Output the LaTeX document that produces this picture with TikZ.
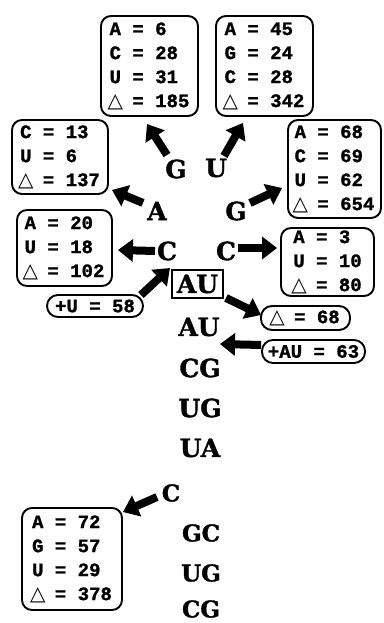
\documentclass[tikz,border=0pt]{standalone}
\usepackage{fontspec}
\usetikzlibrary{arrows.meta}
\newfontfamily\boxfamily{Liberation Mono}[BoldFeatures={FakeBold=1.2}]
\newfontfamily\basefamily{DejaVu Serif}[BoldFeatures={FakeBold=1.5}]
\newfontfamily\symfamily{DejaVu Sans}
\newcommand\boxfont{\boxfamily\bfseries\fontsize{19}{24}\selectfont}
\newcommand\basefont{\basefamily\bfseries\fontsize{25}{29}\selectfont}
\newcommand\smallbasefont{\basefamily\bfseries\fontsize{23}{27}\selectfont}
\newcommand\tri{\makebox[11.4pt][c]{\symfamily\bfseries\fontsize{20}{24}\selectfont △}}
\tikzset{
  infobox/.style={draw, line width=1.9pt, rounded corners=10pt, align=left, font=\boxfont, inner sep=0pt},
  pill/.style={draw, line width=1.9pt, rounded corners=11pt, font=\boxfont, inner sep=0pt},
  base/.style={font=\basefont, inner sep=1pt},
  sbase/.style={font=\smallbasefont, inner sep=1pt},
  bigarrow/.style={line width=8pt, -{Triangle[length=15pt,width=22pt]}}
}
\begin{document}
\begin{tikzpicture}[x=1pt,y=-1pt]
\useasboundingbox (0,0) rectangle (383,623);
% info boxes
\node[infobox, minimum width=97, minimum height=100] (box1) at (149.5,66) {A = 6\\C = 28\\U = 31\\\tri{} = 185};
\node[infobox, minimum width=97, minimum height=100] (box2) at (264.5,66) {A = 45\\G = 24\\C = 28\\\tri{} = 342};
\node[infobox, minimum width=96, minimum height=74] (box3) at (60,157) {C = 13\\U = 6\\\tri{} = 137};
\node[infobox, minimum width=93, minimum height=98] (box4) at (334.5,169) {A = 68\\C = 69\\U = 62\\\tri{} = 654};
\node[infobox, minimum width=95, minimum height=76] (box5) at (64.5,248) {A = 20\\U = 18\\\tri{} = 102};
\node[infobox, minimum width=93, minimum height=68] (box6) at (327.5,262) {A = 3\\U = 10\\\tri{} = 80};
\node[pill, minimum width=96, minimum height=22] (plusU) at (95,306) {+U = 58};
\node[pill, minimum width=89, minimum height=24] (d68) at (305.5,318) {\tri{} = 68};
\node[pill, minimum width=103, minimum height=23] (plusAU) at (313.5,351.5) {+AU = 63};
\node[infobox, minimum width=100, minimum height=102] (box7) at (72,559) {A = 72\\G = 57\\U = 29\\\tri{} = 378};
% bases
\node[base] (G1) at (176,169) {G};
\node[base] (U1) at (216,168) {U};
\node[base] (A1) at (157,211) {A};
\node[base] (G2) at (236,211) {G};
\node[base] (C1) at (167,251) {C};
\node[base] (C2) at (226,251) {C};
\node[base, draw, line width=1.9pt, inner sep=0pt, minimum width=51, minimum height=28] (AUb) at (197.5,284) {AU};
\node[base] (AU2) at (199,327) {AU};
\node[base] (CG1) at (200,368) {CG};
\node[base] (UG1) at (200,408) {UG};
\node[base] (UA1) at (200,448) {UA};
\node[sbase] (C3) at (171,493) {C};
\node[sbase] (GC1) at (201,533) {GC};
\node[sbase] (UG2) at (201,573) {UG};
\node[sbase] (CG2) at (201,609) {CG};
% arrows
\draw[bigarrow] ([shift={(-9,-14)}]G1.center) -- ([shift={(-2.5,7)}]box1.south);
\draw[bigarrow] ([shift={(8,-12)}]U1.center) -- ([shift={(-21.5,6)}]box2.south);
\draw[bigarrow] ([shift={(-14,-8)}]A1.center) -- ([shift={(3,-5)}]box3.south east);
\draw[bigarrow] ([shift={(14,-8)}]G2.center) -- ([shift={(-5,19)}]box4.west);
\draw[bigarrow] ([shift={(-12,0)}]C1.center) -- ([shift={(5,2)}]box5.east);
\draw[bigarrow] ([shift={(12,-3)}]C2.center) -- ([shift={(-3,-14)}]box6.west);
\draw[bigarrow] ([shift={(-3,1)}]plusU.north east) -- ([shift={(3,17)}]C1.center);
\draw[bigarrow] ([shift={(2,-1)}]AUb.south east) -- ([shift={(1,-3)}]d68.west);
\draw[bigarrow] ([shift={(0,-6.5)}]plusAU.west) -- ([shift={(21,17)}]AU2.center);
\draw[bigarrow] ([shift={(-14,4)}]C3.center) -- ([shift={(0,5)}]box7.north east);
\end{tikzpicture}
\end{document}
